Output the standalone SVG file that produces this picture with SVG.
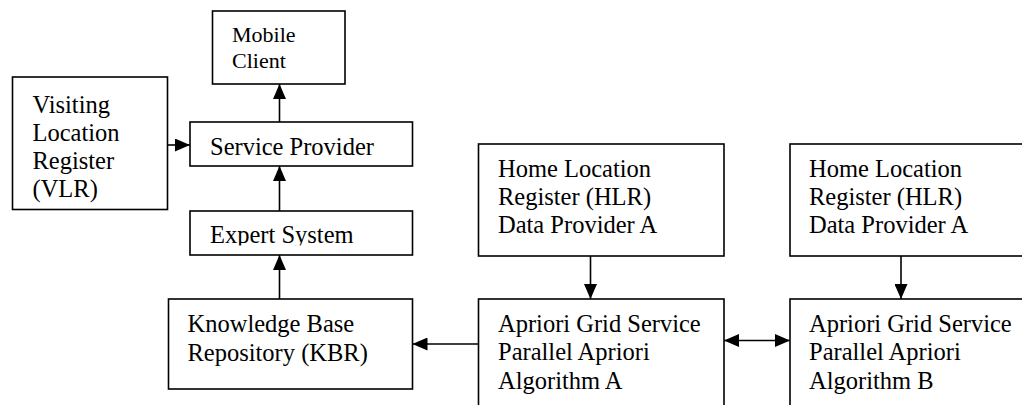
<svg xmlns="http://www.w3.org/2000/svg" width="1022" height="405" viewBox="0 0 1022 405">
  <style>
    .box { fill: #fff; stroke: #000; stroke-width: 1.6; }
    .lbl { font-family: "Liberation Serif", "Times New Roman", serif; font-size: 24.5px; fill: #000; }
    .small { font-size: 22px; }
    .conn { stroke: #000; stroke-width: 1.6; fill: none; }
  </style>
  <defs>
    <marker id="arr" viewBox="0 0 15 13" markerWidth="15" markerHeight="13" refX="15" refY="6.5" orient="auto-start-reverse" markerUnits="userSpaceOnUse">
      <path d="M0,0 L15,6.5 L0,13 Z" fill="#000"/>
    </marker>
    <clipPath id="clipES">
      <rect x="190" y="211" width="223" height="34.5"/>
    </clipPath>
  </defs>
  <rect width="1022" height="405" fill="#fff"/>

  <g id="mobile-client">
    <rect class="box" x="212.5" y="11" width="132.5" height="73"/>
    <text class="lbl small" x="232" y="41.5">Mobile</text>
    <text class="lbl small" x="232" y="68">Client</text>
  </g>

  <g id="vlr">
    <rect class="box" x="12.5" y="77" width="155" height="132.5"/>
    <text class="lbl" x="32.5" y="113">Visiting</text>
    <text class="lbl" x="32.5" y="141">Location</text>
    <text class="lbl" x="32.5" y="169">Register</text>
    <text class="lbl" x="32.5" y="197">(VLR)</text>
  </g>

  <g id="service-provider">
    <rect class="box" x="190" y="122" width="222.5" height="44"/>
    <text class="lbl" x="210" y="155">Service Provider</text>
  </g>

  <g id="expert-system">
    <rect class="box" x="190" y="211" width="222.5" height="44"/>
    <text class="lbl" x="210" y="243" clip-path="url(#clipES)">Expert System</text>
  </g>

  <g id="kbr">
    <rect class="box" x="168.5" y="299" width="244" height="90"/>
    <text class="lbl" x="187.5" y="332">Knowledge Base</text>
    <text class="lbl" x="187.5" y="361">Repository (KBR)</text>
  </g>

  <g id="hlr-a">
    <rect class="box" x="478.5" y="144" width="245.5" height="112"/>
    <text class="lbl" x="498" y="176.7">Home Location</text>
    <text class="lbl" x="498" y="205">Register (HLR)</text>
    <text class="lbl" x="498" y="233.3">Data Provider A</text>
  </g>

  <g id="hlr-b">
    <rect class="box" x="790" y="144" width="260" height="112"/>
    <text class="lbl" x="809" y="176.7">Home Location</text>
    <text class="lbl" x="809" y="205">Register (HLR)</text>
    <text class="lbl" x="809" y="233.3">Data Provider A</text>
  </g>

  <g id="apriori-a">
    <rect class="box" x="478.5" y="299" width="245.5" height="130"/>
    <text class="lbl" x="498" y="331.5">Apriori Grid Service</text>
    <text class="lbl" x="498" y="360">Parallel Apriori</text>
    <text class="lbl" x="498" y="388.5">Algorithm A</text>
  </g>

  <g id="apriori-b">
    <rect class="box" x="790" y="299" width="260" height="130"/>
    <text class="lbl" x="809" y="331.5">Apriori Grid Service</text>
    <text class="lbl" x="809" y="360">Parallel Apriori</text>
    <text class="lbl" x="809" y="388.5">Algorithm B</text>
  </g>

  <g id="connectors">
    <line class="conn" x1="167.5" y1="145" x2="190" y2="145" marker-end="url(#arr)"/>
    <line class="conn" x1="279.5" y1="122" x2="279.5" y2="84" marker-end="url(#arr)"/>
    <line class="conn" x1="279.5" y1="211" x2="279.5" y2="166" marker-end="url(#arr)"/>
    <line class="conn" x1="279.5" y1="299" x2="279.5" y2="255" marker-end="url(#arr)"/>
    <line class="conn" x1="478.5" y1="344" x2="412.5" y2="344" marker-end="url(#arr)"/>
    <line class="conn" x1="590.5" y1="256" x2="590.5" y2="299" marker-end="url(#arr)"/>
    <line class="conn" x1="901" y1="256" x2="901" y2="299" marker-end="url(#arr)"/>
    <line class="conn" x1="724" y1="340.5" x2="790" y2="340.5" marker-start="url(#arr)" marker-end="url(#arr)"/>
  </g>
</svg>
